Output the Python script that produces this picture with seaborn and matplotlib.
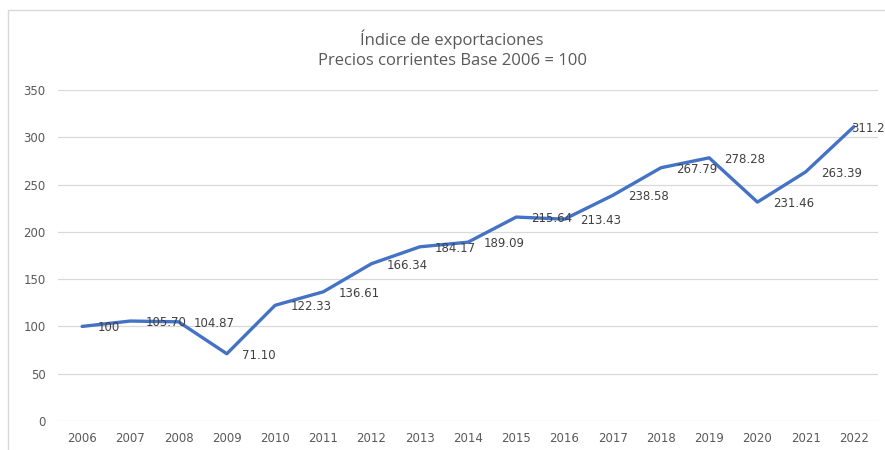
"""Indice de exportaciones, precios corrientes base 2006 = 100"""

import matplotlib.pyplot as plt
from matplotlib.patches import Rectangle
import pandas as pd
import seaborn as sns

years = [str(y) for y in range(2006, 2023)]
indice = [100, 105.70, 104.87, 71.10, 122.33, 136.61, 166.34, 184.17, 189.09,
          215.64, 213.43, 238.58, 267.79, 278.28, 231.46, 263.39, 311.21]
labels = ["100", "105.70", "104.87", "71.10", "122.33", "136.61", "166.34",
          "184.17", "189.09", "215.64", "213.43", "238.58", "267.79", "278.28",
          "231.46", "263.39", "311.21"]

df = pd.DataFrame({"year": years, "indice": indice})

sns.set_style("white")
plt.rcParams["font.family"] = ["DejaVu Sans"]

fig = plt.figure(figsize=(8.85, 4.5), dpi=100)
ax = fig.add_axes([58 / 885, 1 - 421 / 450, 820 / 885, (421 - 90) / 450])

# outer chart border (left/top visible, rest cropped)
fig.patches.append(Rectangle((8 / 885, -0.1), 1.2, (450 - 10) / 450 + 0.1,
                             transform=fig.transFigure, fill=False,
                             edgecolor="#d9d9d9", lw=1.0))

sns.lineplot(data=df, x="year", y="indice", ax=ax, color="#4472c4",
             linewidth=2.4, sort=False)

for i, (v, lab) in enumerate(zip(indice, labels)):
    # last label is pushed back onto the line end, like the original
    dx = -2 if i == len(indice) - 1 else 11
    ax.annotate(lab, (i, v), xytext=(dx, -1), textcoords="offset points",
                ha="left", va="center", fontsize=8.5, color="#404040",
                annotation_clip=False)

ax.set_xlim(-0.5, 16.5)
ax.set_ylim(0, 350)
ax.set_yticks(range(0, 351, 50))
ax.yaxis.grid(True, color="#d9d9d9", lw=0.9)
ax.set_axisbelow(True)
for s in ax.spines.values():
    s.set_visible(False)
ax.tick_params(axis="both", length=0, labelsize=8.5, labelcolor="#595959")
ax.tick_params(axis="x", pad=8)
ax.tick_params(axis="y", pad=9)
ax.set_xlabel("")
ax.set_ylabel("")

fig.text(452 / 885, 1 - 49 / 450, "Índice de exportaciones\nPrecios corrientes Base 2006 = 100",
         ha="center", va="center", fontsize=12, color="#595959",
         family="Open Sans", linespacing=1.35)

plt.savefig("out.png", dpi=100)
